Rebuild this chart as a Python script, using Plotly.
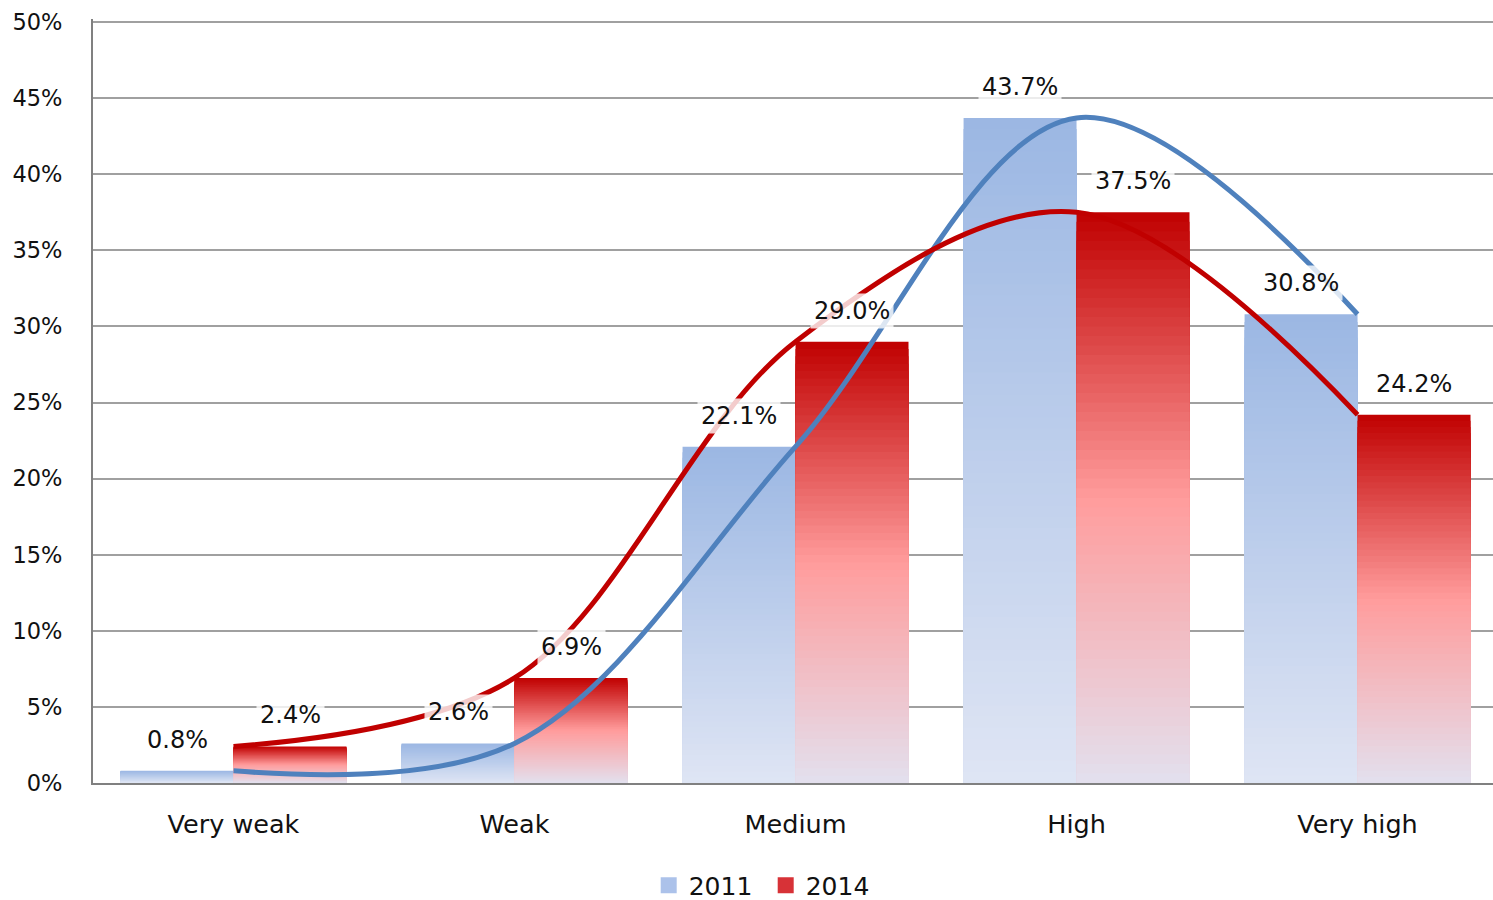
import plotly.graph_objects as go

categories = ["Very weak", "Weak", "Medium", "High", "Very high"]
values_2011 = [0.8, 2.6, 22.1, 43.7, 30.8]
values_2014 = [2.4, 6.9, 29.0, 37.5, 24.2]
series_names = ["2011", "2014"]
y_ticks = [0, 5, 10, 15, 20, 25, 30, 35, 40, 45, 50]

FONT = "DejaVu Sans"
N = 60  # gradient layers per bar

grad_2011 = [(0.0, (155, 183, 227)), (1.0, (223, 229, 244))]
grad_2014 = [(0.0, (192, 0, 0)), (0.5, (255, 156, 156)), (1.0, (227, 224, 238))]


def interp(stops, t):
    for (t0, c0), (t1, c1) in zip(stops[:-1], stops[1:]):
        if t0 <= t <= t1:
            f = (t - t0) / (t1 - t0) if t1 > t0 else 0
            return "rgb(%d,%d,%d)" % tuple(round(a + (b - a) * f) for a, b in zip(c0, c1))
    return "rgb(%d,%d,%d)" % stops[-1][1]


fig = go.Figure()

# Gradient bars: overlapping bars from the base, tallest (top colour) first
for name, vals, stops in [("2011", values_2011, grad_2011), ("2014", values_2014, grad_2014)]:
    for k in range(N):
        t = k / N
        frac = 1 - k / N
        fig.add_trace(go.Bar(
            x=categories,
            y=[v * frac for v in vals],
            offsetgroup=name,
            name=name,
            showlegend=False,
            marker=dict(color=interp(stops, t + 0.5 / N), line=dict(width=0)),
            hoverinfo="skip",
        ))

# Spline lines
fig.add_trace(go.Scatter(
    x=categories, y=values_2011, mode="lines",
    line=dict(color="rgb(79,129,189)", width=5, shape="spline", smoothing=1),
    showlegend=False, hoverinfo="skip",
))
fig.add_trace(go.Scatter(
    x=categories, y=values_2014, mode="lines",
    line=dict(color="rgb(192,0,0)", width=5, shape="spline", smoothing=1),
    showlegend=False, hoverinfo="skip",
))

# Legend entries
for name, col in [("2011", "rgb(172,194,234)"), ("2014", "rgb(215,50,55)")]:
    fig.add_trace(go.Scatter(
        x=[None], y=[None], mode="markers", name=name,
        marker=dict(symbol="square", size=20, color=col),
        showlegend=True, hoverinfo="skip",
    ))

annotations = []
for vals, shift in [(values_2011, -56.5), (values_2014, 56.5)]:
    for c, v in zip(categories, vals):
        annotations.append(dict(
            x=c, y=v, xref="x", yref="y", text="%.1f%%" % v,
            showarrow=False, xshift=shift, yanchor="bottom", yshift=13,
            font=dict(family=FONT, size=24, color="#111"),
            bgcolor="rgba(255,255,255,0.8)", borderpad=3,
        ))

fig.update_layout(
    width=1493, height=900,
    margin=dict(l=93, r=0, t=19, b=117, autoexpand=False),
    paper_bgcolor="white", plot_bgcolor="white",
    barmode="group", bargap=0.196, bargroupgap=0,
    font=dict(family=FONT, color="#111"),
    showlegend=True,
    legend=dict(
        orientation="h", x=0.4805, xanchor="center",
        yref="container", y=0.016, yanchor="middle",
        font=dict(family=FONT, size=25, color="#111"),
        itemclick=False, traceorder="normal", itemsizing="trace",
        entrywidth=72,
    ),
    annotations=annotations,
    xaxis=dict(
        type="category", range=[-0.5, 4.482], automargin=False,
        showgrid=False, showline=True, linecolor="rgb(128,128,128)", linewidth=2,
        ticks="", tickfont=dict(family=FONT, size=25.5, color="#111"),
        ticklabelstandoff=17,
    ),
    yaxis=dict(
        range=[0, 50.2], tickvals=y_ticks, ticktext=["%d%%" % t for t in y_ticks],
        automargin=False,
        showgrid=True, gridcolor="rgb(160,160,160)", gridwidth=2,
        showline=True, linecolor="rgb(128,128,128)", linewidth=2,
        zeroline=False, ticks="", tickfont=dict(family=FONT, size=22.5, color="#111"),
        ticklabelstandoff=24,
    ),
)

fig.write_html(
    "out.html",
    config={"displayModeBar": False},
    post_script="document.body.style.margin='0';document.body.style.overflow='hidden';",
)
